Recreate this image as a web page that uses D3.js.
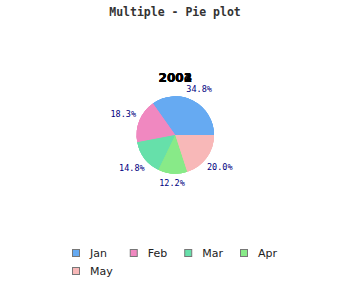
<!DOCTYPE html>
<html>
<head>
<meta charset="utf-8">
<script src="https://cdn.jsdelivr.net/npm/d3@7/dist/d3.min.js"></script>
<style>
  html, body { margin: 0; padding: 0; background: #fff; }
  svg { display: block; }
</style>
</head>
<body>
<svg id="chart" width="350" height="300"></svg>
<script>
// Monthly values, one pie per year (all years share the same centre)
const months = ["Jan", "Feb", "Mar", "Apr", "May"];
const values = [40, 21, 17, 14, 23];
const years = ["2001", "2002", "2003", "2004"];
const colors = ["#66aaf2", "#f088c0", "#66e0aa", "#88ea88", "#f8b8b8"];

const W = 350, H = 300;
const svg = d3.select("#chart");

svg.append("rect").attr("width", W).attr("height", H).attr("fill", "#fff");

svg.append("text")
  .attr("x", W / 2).attr("y", 16)
  .attr("text-anchor", "middle")
  .style("font-family", "'DejaVu Sans Mono', monospace")
  .style("font-weight", "bold")
  .style("font-size", "11.5px")
  .attr("fill", "#333")
  .text("Multiple - Pie plot");

const cx = 175.3, cy = 135, r = 38.7;
const total = d3.sum(values);

// Start at 3 o'clock and run counter-clockwise
const pie = d3.pie().sort(null)
  .startAngle(Math.PI / 2)
  .endAngle(Math.PI / 2 - 2 * Math.PI);
const arc = d3.arc().innerRadius(0).outerRadius(r);
const fmt = d3.format(".1f");

years.forEach((year, k) => {
  const g = svg.append("g").attr("transform", `translate(${cx},${cy})`);
  const arcs = pie(values);

  g.selectAll("path")
    .data(arcs)
    .join("path")
    .attr("d", arc)
    .attr("fill", (d, i) => colors[i]);

  // percentage labels sit on the same spot for every year; draw them once
  if (k === years.length - 1) {
    g.selectAll("text.pct")
      .data(arcs)
      .join("text")
      .attr("class", "pct")
      .each(function (d) {
        const mid = (d.startAngle + d.endAngle) / 2; // d3 angle: 0 = up, clockwise
        const sx = Math.sin(mid), sy = -Math.cos(mid);
        const dist = r + 9 + Math.abs(sx) * 9;
        d3.select(this)
          .attr("x", sx * dist)
          .attr("y", sy * dist)
          .attr("dy", "0.35em");
      })
      .attr("text-anchor", "middle")
      .style("font-family", "'DejaVu Sans Mono', monospace")
      .style("font-size", "8.5px")
      .attr("fill", "#000080")
      .text(d => fmt(d.value / total * 100) + "%");
  }

  svg.append("text")
    .attr("x", cx).attr("y", 82)
    .attr("text-anchor", "middle")
    .style("font-family", "'DejaVu Sans', sans-serif")
    .style("font-weight", "bold")
    .style("font-size", "12px")
    .attr("fill", "#000")
    .text(year);
});

// Legend: 4 columns, wrapping onto a second row
const legend = svg.append("g");
const cols = 4, rowY = [253, 271], x0 = 72.5, box = 7, gap = 10.5, pad = 35;
const items = legend.selectAll("g.item")
  .data(months)
  .join("g")
  .attr("class", "item");

items.append("text")
  .attr("dy", "0.35em")
  .style("font-family", "'DejaVu Sans', sans-serif")
  .style("font-size", "11px")
  .attr("fill", "#222")
  .text(d => d);

const widths = [];
items.each(function (d, i) {
  const w = this.querySelector("text").getComputedTextLength();
  const c = i % cols;
  widths[c] = Math.max(widths[c] || 0, w);
});
const colX = [x0];
for (let c = 1; c < cols; c++) colX[c] = colX[c - 1] + widths[c - 1] + pad;

items.attr("transform", (d, i) => `translate(${colX[i % cols]},${rowY[Math.floor(i / cols)]})`);
items.insert("rect", "text")
  .attr("x", 0).attr("y", -box / 2)
  .attr("width", box).attr("height", box)
  .attr("fill", (d, i) => colors[i])
  .attr("stroke", "#777")
  .attr("stroke-width", 1);
items.select("text").attr("x", box + gap);
</script>
</body>
</html>
